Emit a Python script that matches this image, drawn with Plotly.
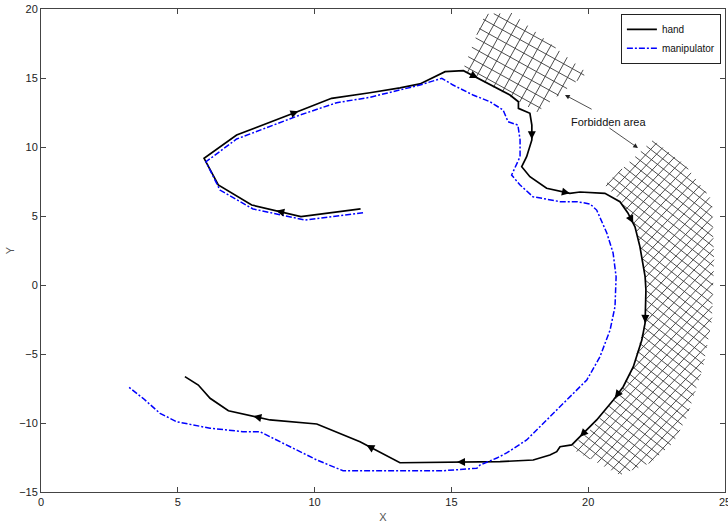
import numpy as np
import plotly.graph_objects as go

# ---------------- data ----------------
hand_x = [11.68, 9.50, 7.70, 6.48, 5.96, 7.15, 9.53, 10.62, 12.02, 13.12, 13.85, 14.70, 14.77, 15.44,
          15.97, 16.47, 17.14, 17.45, 17.45, 17.87, 17.94, 17.94, 17.75, 17.57, 17.87, 18.48, 19.33,
          19.70, 20.61, 21.16, 21.45, 21.71, 21.89, 22.08, 22.11, 22.08, 21.96, 21.65, 21.28, 20.92,
          20.31, 19.70, 19.40, 18.97, 18.85, 18.60, 17.99, 16.78, 13.12, 11.66, 10.08, 8.37, 6.85,
          6.18, 5.75, 5.26]
hand_y = [5.51, 4.95, 5.80, 7.25, 9.18, 10.87, 12.68, 13.53, 13.93, 14.28, 14.57, 15.34, 15.46, 15.53,
          15.00, 14.49, 13.77, 13.28, 12.80, 12.44, 11.59, 10.51, 9.30, 8.57, 7.85, 7.01, 6.64,
          6.74, 6.64, 6.04, 5.22, 4.22, 2.78, 0.60, -0.36, -2.75, -3.99, -5.92, -7.37, -8.33,
          -9.78, -10.99, -11.59, -11.72, -12.08, -12.32, -12.68, -12.80, -12.88, -11.36, -10.07, -9.78, -9.11,
          -8.21, -7.25, -6.64]

manip_x = [11.77, 9.65, 7.75, 6.54, 6.03, 7.15, 9.47, 10.81, 12.02, 13.85, 14.65, 15.06, 15.79, 16.41,
           16.89, 17.07, 17.43, 17.51, 17.51, 17.20, 17.51, 17.98, 18.97, 19.58, 20.07, 20.31, 20.68,
           20.91, 21.02, 20.98, 20.80, 20.43, 19.95, 19.21, 18.48, 17.75, 17.02, 16.66, 16.05, 15.93,
           14.69, 11.04, 10.08, 8.00, 7.38, 6.18, 4.96, 4.35, 3.73, 3.19]
manip_y = [5.24, 4.71, 5.51, 6.88, 8.93, 10.58, 12.32, 13.21, 13.60, 14.49, 14.98, 14.49, 13.77, 13.28,
           12.68, 11.83, 11.59, 10.51, 9.30, 7.97, 7.25, 6.40, 6.04, 6.04, 5.87, 5.43, 3.77,
           2.32, 0.60, -1.57, -3.26, -5.20, -6.88, -8.33, -9.78, -11.23, -12.17, -12.54, -13.04, -13.28,
           -13.46, -13.46, -12.68, -10.63, -10.63, -10.38, -9.91, -9.30, -8.21, -7.37]

# arrows on the hand path: segment index and position along that segment
arrow_seg = [1, 5, 13, 20, 25, 30, 34, 38, 40, 47, 48, 51]
arrow_frac = [0.5, 0.95, 1.0, 0.95, 1.0, 0.75, 1.0, 0.85, 1.0, 0.43, 0.84, 0.4]

# forbidden areas (outline of the cross-hatched regions)
top_area_x = [15.42, 16.23, 17.21, 19.96, 18.13]
top_area_y = [15.58, 19.64, 19.71, 15.36, 12.54]
right_area_x = [20.61, 22.37, 23.54, 24.52, 24.60, 24.52, 24.20, 23.61, 23.10, 22.26, 21.16, 19.33,
                20.07, 21.05, 21.64, 22.08, 22.15, 21.93, 21.75, 21.16]
right_area_y = [7.25, 10.51, 8.70, 6.16, 1.81, -2.54, -5.94, -9.57, -11.45, -12.90, -13.77, -11.81,
                -10.51, -8.12, -5.94, -2.75, -0.36, 2.54, 4.20, 6.16]

label_text = "Forbidden area"
label_pos = (20.76, 11.81)
label_arrows = [((19.15, 13.77), (20.18, 12.68)), ((21.82, 9.93), (20.72, 11.45))]

x_range = [0, 25]
y_range = [-15, 20]
x_ticks = [0, 5, 10, 15, 20, 25]
y_ticks = [-15, -10, -5, 0, 5, 10, 15, 20]

# ---------------- layout geometry ----------------
W, H = 728, 528
ML, MR, MT, MB = 41, 3, 9, 36
sx = (W - ML - MR) / (x_range[1] - x_range[0])
sy = (H - MT - MB) / (y_range[1] - y_range[0])


def hatch(px, py, angle_deg, spacing):
    P = np.column_stack([np.array(px) * sx, np.array(py) * sy])
    a = np.radians(angle_deg)
    d = np.array([np.cos(a), np.sin(a)])
    n = np.array([-np.sin(a), np.cos(a)])
    proj = P @ n
    xs, ys = [], []
    m = len(P)
    for c in np.arange(proj.min() + spacing / 2, proj.max(), spacing):
        ts = []
        for i in range(m):
            A, B = P[i], P[(i + 1) % m]
            sa, sb = A @ n - c, B @ n - c
            if (sa < 0) != (sb < 0):
                t = sa / (sa - sb)
                Q = A + t * (B - A)
                ts.append(Q @ d)
        ts.sort()
        for k in range(0, len(ts) - 1, 2):
            for t in (ts[k], ts[k + 1]):
                Q = c * n + t * d
                xs.append(Q[0] / sx)
                ys.append(Q[1] / sy)
            xs.append(None)
            ys.append(None)
    return xs, ys


fig = go.Figure()

hatch_specs = [
    (top_area_x, top_area_y, -29, 10.0),
    (top_area_x, top_area_y, 61, 10.0),
    (right_area_x, right_area_y, 47, 7.6),
    (right_area_x, right_area_y, -38, 7.6),
]
for hx, hy, ang, sp in hatch_specs:
    xs, ys = hatch(hx, hy, ang, sp)
    fig.add_trace(go.Scatter(x=xs, y=ys, mode="lines", showlegend=False, hoverinfo="skip",
                             line=dict(color="#3a3a3a", width=0.9)))

fig.add_trace(go.Scatter(x=hand_x, y=hand_y, mode="lines", name="hand",
                         line=dict(color="black", width=1.7)))
fig.add_trace(go.Scatter(x=manip_x, y=manip_y, mode="lines", name="manipulator",
                         line=dict(color="#0000ff", width=1.5, dash="6px,2px,2px,2px")))

annotations = []
for seg, fr in zip(arrow_seg, arrow_frac):
    x0, y0 = hand_x[seg], hand_y[seg]
    x1, y1 = hand_x[seg + 1], hand_y[seg + 1]
    hx = x0 + fr * (x1 - x0)
    hy = y0 + fr * (y1 - y0)
    dpx, dpy = (x1 - x0) * sx, (y1 - y0) * sy
    L = np.hypot(dpx, dpy)
    ux, uy = dpx / L, dpy / L
    annotations.append(dict(x=hx, y=hy, ax=hx - 6 * ux / sx, ay=hy - 6 * uy / sy,
                            xref="x", yref="y", axref="x", ayref="y", text="",
                            showarrow=True, arrowhead=2, arrowsize=1.0, arrowwidth=1.6,
                            arrowcolor="black", standoff=0))

annotations.append(dict(x=label_pos[0], y=label_pos[1], xref="x", yref="y", text=label_text,
                        showarrow=False, font=dict(size=11, color="#111")))
for (hx, hy), (tx, ty) in label_arrows:
    annotations.append(dict(x=hx, y=hy, ax=tx, ay=ty, xref="x", yref="y", axref="x", ayref="y",
                            text="", showarrow=True, arrowhead=2, arrowsize=1.2, arrowwidth=0.8,
                            arrowcolor="#222", standoff=0))

axis_common = dict(showgrid=False, zeroline=False, showline=True, linecolor="#444", linewidth=1,
                   mirror="allticks", ticks="inside", ticklen=5, tickcolor="#444",
                   tickfont=dict(size=11, color="#222"), automargin=False,
                   ticklabeloverflow="allow")

fig.update_layout(
    width=W, height=H,
    margin=dict(l=ML, r=MR, t=MT, b=MB, autoexpand=False),
    paper_bgcolor="white", plot_bgcolor="white",
    font=dict(family="Liberation Sans, Arial, sans-serif"),
    xaxis=dict(range=x_range, tickvals=x_ticks, title=dict(text="X", font=dict(size=11, color="#555"), standoff=6),
               **axis_common),
    yaxis=dict(range=y_range, tickvals=y_ticks, title=dict(text="Y", font=dict(size=11, color="#555"), standoff=2),
               **axis_common),
    legend=dict(x=0.994, y=0.99, xanchor="right", yanchor="top", bgcolor="white",
                bordercolor="#222", borderwidth=1, font=dict(size=10, color="#111"),
                itemwidth=30, tracegroupgap=0),
    annotations=annotations,
    showlegend=True,
)

fig.write_html("out.html", config={"displayModeBar": False},
               post_script="document.body.style.margin='0px';document.body.style.overflow='hidden';")
